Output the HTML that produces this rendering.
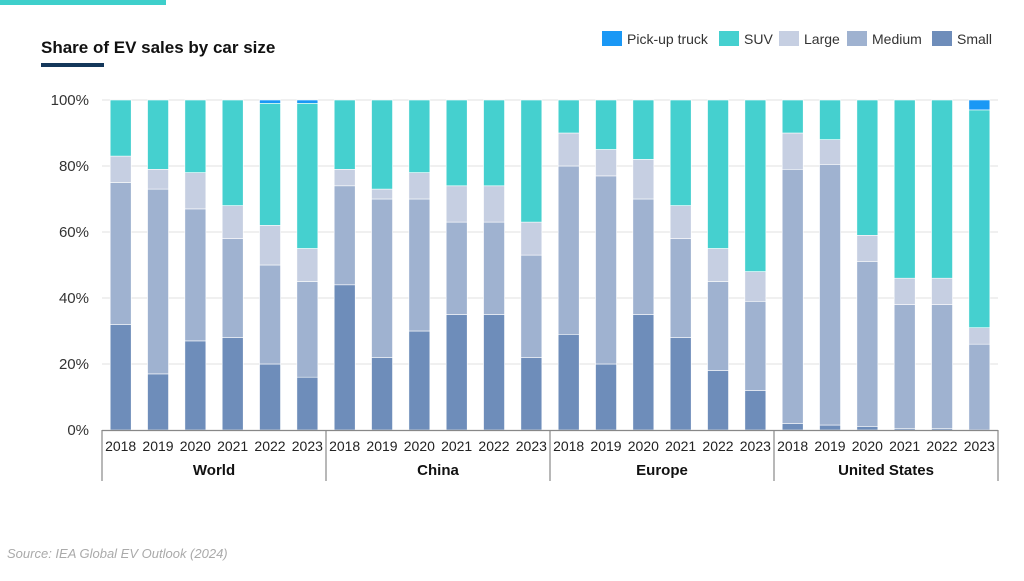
<!DOCTYPE html>
<html><head><meta charset="utf-8"><style>
body{margin:0;background:#fff;width:1024px;height:576px;overflow:hidden;font-family:"Liberation Sans",sans-serif}
</style></head><body>
<svg width="1024" height="576" xmlns="http://www.w3.org/2000/svg" font-family="Liberation Sans, sans-serif">
<rect x="0" y="0" width="166" height="5" fill="#3ecfcb"/>
<text x="41" y="53" font-size="17" font-weight="bold" fill="#111">Share of EV sales by car size</text>
<rect x="41" y="63" width="63" height="4" fill="#14375a"/>
<g font-size="14" fill="#333">
<rect x="602" y="31" width="20" height="15" fill="#1a98f5"/><text x="627" y="44">Pick-up truck</text>
<rect x="719" y="31" width="20" height="15" fill="#45d0cf"/><text x="744" y="44">SUV</text>
<rect x="779" y="31" width="20" height="15" fill="#c6cfe2"/><text x="804" y="44">Large</text>
<rect x="847" y="31" width="20" height="15" fill="#9fb2d0"/><text x="872" y="44">Medium</text>
<rect x="932" y="31" width="20" height="15" fill="#6e8dba"/><text x="957" y="44">Small</text>
</g>
<g stroke="#e2e2e2" stroke-width="1">
<line x1="102" x2="998" y1="100" y2="100"/><line x1="102" x2="998" y1="166" y2="166"/>
<line x1="102" x2="998" y1="232" y2="232"/><line x1="102" x2="998" y1="298" y2="298"/>
<line x1="102" x2="998" y1="364" y2="364"/>
</g>
<g font-size="15" fill="#333" text-anchor="end">
<text x="89" y="105">100%</text><text x="89" y="171">80%</text><text x="89" y="237">60%</text>
<text x="89" y="303">40%</text><text x="89" y="369">20%</text><text x="89" y="435">0%</text>
</g>
<g id="bars"></g>
<line x1="102" x2="998" y1="430.5" y2="430.5" stroke="#888" stroke-width="1.2"/>
<g stroke="#888" stroke-width="1.2">
<line x1="102" x2="102" y1="430" y2="481"/><line x1="326" x2="326" y1="430" y2="481"/>
<line x1="550" x2="550" y1="430" y2="481"/><line x1="774" x2="774" y1="430" y2="481"/>
<line x1="998" x2="998" y1="430" y2="481"/>
</g>
<g id="xl" font-size="14" fill="#222" text-anchor="middle"></g>
<g font-size="15" font-weight="bold" fill="#111" text-anchor="middle">
<text x="214" y="475">World</text><text x="438" y="475">China</text>
<text x="662" y="475">Europe</text><text x="886" y="475">United States</text>
</g>
<text x="7" y="558" font-size="13" font-style="italic" fill="#aaa">Source: IEA Global EV Outlook (2024)</text>
</svg>
<script>
var d=[[32,75,83,100],[17,73,79,100],[27,67,78,100],[28,58,68,100],[20,50,62,99],[16,45,55,99],
[44,74,79,100],[22,70,73,100],[30,70,78,100],[35,63,74,100],[35,63,74,100],[22,53,63,100],
[29,80,90,100],[20,77,85,100],[35,70,82,100],[28,58,68,100],[18,45,55,100],[12,39,48,100],
[2,79,90,100],[1.5,80.5,88,100],[1,51,59,100],[0.5,38,46,100],[0.5,38,46,100],[0,26,31,97]];
var c=["#6e8dba","#9fb2d0","#c6cfe2","#45d0cf","#1a98f5"];
var s="",t="";
function y(v){return 430-v*3.3;}
for(var i=0;i<24;i++){var x=102+i*37.333+8.2,cx=102+i*37.333+18.67,p=0,v=d[i].concat([100]);
for(var k=0;k<5;k++){if(v[k]>p){s+='<rect x="'+x+'" y="'+y(v[k])+'" width="21" height="'+(v[k]-p)*3.3+'" fill="'+c[k]+'" stroke="#fff" stroke-width="0.6"/>';}p=v[k];}
t+='<text x="'+cx+'" y="451">'+(2018+i%6)+'</text>';}
document.getElementById("bars").innerHTML=s;document.getElementById("xl").innerHTML=t;
</script>
</body></html>
